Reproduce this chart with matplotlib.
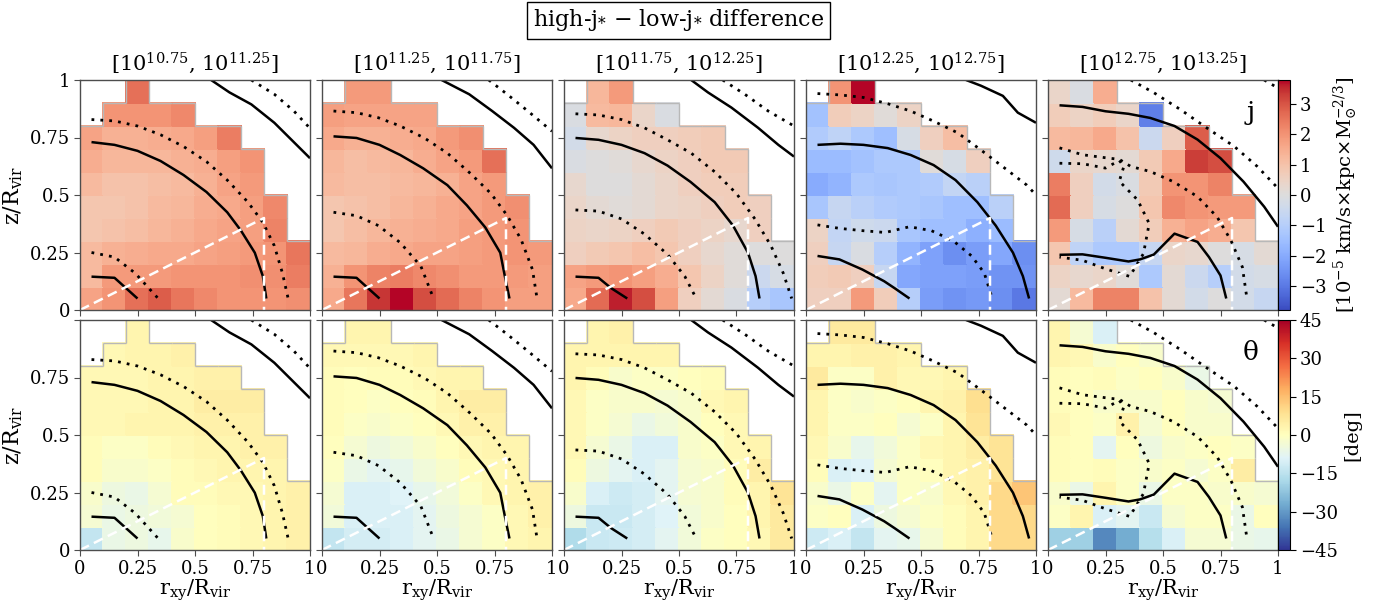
import numpy as np
import matplotlib
matplotlib.use("Agg")
import matplotlib.pyplot as plt
from matplotlib.colors import Normalize
from matplotlib.collections import LineCollection
from matplotlib.cm import ScalarMappable

plt.rcParams["font.family"] = ["DejaVu Serif", "DejaVu Sans"]
plt.rcParams["mathtext.fontset"] = "dejavuserif"

N = np.nan

# halo-mass bins (column titles)
mass_bins = [
    r"[10$^{10.75}$, 10$^{11.25}$]",
    r"[10$^{11.25}$, 10$^{11.75}$]",
    r"[10$^{11.75}$, 10$^{12.25}$]",
    r"[10$^{12.25}$, 10$^{12.75}$]",
    r"[10$^{12.75}$, 10$^{13.25}$]",
]

# bin edges in r_xy/R_vir and z/R_vir
r_edges = np.linspace(0.0, 1.0, 11)
z_edges = np.linspace(0.0, 1.0, 11)

# specific angular momentum difference [1e-5 km/s kpc Msun^-2/3]
# rows listed from the top bin (z = 0.9-1.0) down to z = 0-0.1
j_diff_1 = [
    [N, N, 2.6, N, N, N, N, N, N, N],
    [N, 2.0, 2.0, 2.0, 2.2, N, N, N, N, N],
    [1.7, 1.4, 1.4, 1.5, 1.6, 1.8, 2.4, N, N, N],
    [1.5, 1.3, 1.3, 1.3, 1.4, 1.5, 1.8, 2.0, N, N],
    [1.2, 1.0, 1.0, 1.1, 1.2, 1.4, 1.7, 1.9, N, N],
    [0.9, 0.9, 1.0, 1.2, 1.3, 1.5, 1.6, 1.8, 2.2, N],
    [0.9, 1.0, 1.1, 1.3, 1.4, 1.6, 1.7, 1.8, 2.3, N],
    [1.2, 1.4, 1.5, 1.6, 1.6, 1.7, 1.8, 1.9, 2.0, 2.5],
    [1.2, 1.9, 1.9, 1.9, 2.0, 2.0, 2.0, 2.1, 2.1, 2.4],
    [1.7, 2.0, 2.6, 2.9, 2.5, 2.2, 2.0, 2.0, 2.0, 2.1],
]
j_diff_2 = [
    [N, 1.9, 1.9, N, N, N, N, N, N, N],
    [1.8, 1.7, 1.7, 1.7, 1.7, N, N, N, N, N],
    [1.6, 1.4, 1.4, 1.5, 1.6, 1.9, 2.1, N, N, N],
    [1.3, 1.1, 1.2, 1.3, 1.5, 1.7, 1.9, 2.6, N, N],
    [1.2, 1.1, 1.1, 1.2, 1.3, 1.4, 1.7, 1.9, N, N],
    [0.9, 1.0, 1.1, 1.3, 1.4, 1.6, 1.7, 1.9, 2.1, N],
    [0.9, 1.1, 1.3, 1.4, 1.5, 1.6, 1.8, 1.9, 2.0, N],
    [1.2, 1.3, 1.5, 1.6, 1.7, 1.7, 1.8, 1.9, 2.0, 1.9],
    [1.4, 2.0, 2.3, 2.4, 2.2, 2.1, 1.9, 1.9, 1.9, 1.8],
    [1.6, 2.5, 3.4, 3.8, 3.1, 2.7, 2.3, 2.0, 1.8, 1.8],
]
j_diff_3 = [
    [N, 1.3, 1.9, N, N, N, N, N, N, N],
    [-0.1, 1.2, 1.3, 0.4, -0.1, N, N, N, N, N],
    [-0.3, 0.3, 0.5, 0.6, 0.6, 0.7, 0.8, N, N, N],
    [-0.1, 0.0, 0.1, 0.3, 0.5, 0.6, 0.8, 0.8, N, N],
    [0.3, 0.0, 0.0, 0.2, 0.4, 0.6, 0.7, 0.7, N, N],
    [0.4, 0.2, 0.1, 0.2, 0.4, 0.5, 0.6, 0.7, 0.6, N],
    [0.5, 0.4, 0.5, 0.6, 0.8, 0.6, 0.5, 0.3, 0.6, N],
    [0.6, 0.8, 0.9, 1.1, 0.9, 0.6, 0.3, 0.1, 0.0, 0.0],
    [1.7, 1.9, 2.0, 1.8, 1.5, 0.9, 0.5, 0.1, -0.5, -0.2],
    [1.6, 2.7, 3.6, 3.1, 1.8, 0.6, 0.2, -0.1, -1.0, -1.3],
]
j_diff_4 = [
    [N, 2.0, 3.8, N, N, N, N, N, N, N],
    [-1.4, 0.7, 0.5, 0.1, 0.5, N, N, N, N, N],
    [-1.1, -0.8, -1.2, -1.5, -0.2, 0.6, 1.1, N, N, N],
    [-1.6, -1.6, -1.4, -1.2, -1.2, 0.1, -0.2, 0.6, N, N],
    [-2.0, -1.8, -1.2, -1.3, -1.2, -1.1, -0.7, -0.9, N, N],
    [-1.3, -0.6, -0.9, -1.1, -1.2, -1.3, -1.5, -1.5, -0.9, N],
    [0.5, -0.7, -0.4, -0.5, -1.3, -1.5, -1.5, -1.9, -1.6, N],
    [0.6, -0.6, -0.1, -1.0, -1.8, -2.2, -2.6, -2.3, -2.1, -2.6],
    [0.7, 0.8, 0.6, -0.6, -2.1, -2.2, -2.2, -2.3, -2.5, -2.5],
    [0.6, 0.6, 1.9, 0.7, -1.0, -2.3, -2.5, -2.4, -2.6, -3.0],
]
j_diff_5 = [
    [0.4, -0.1, 1.5, N, N, N, N, N, N, N],
    [0.7, 0.5, 0.7, 0.4, -2.9, N, N, N, N, N],
    [1.2, 1.3, 1.6, 1.0, -0.5, 0.6, 2.9, N, N, N],
    [-0.4, 0.4, 0.3, 0.2, 0.8, 1.6, 3.3, 3.1, N, N],
    [2.4, 0.6, -0.3, -0.1, 0.8, 2.0, 2.0, 2.3, N, N],
    [2.7, 0.6, -0.2, 0.0, 0.9, 2.2, 2.0, 1.9, 1.9, N],
    [1.9, -0.2, -0.9, 0.2, 0.7, 1.4, 1.7, 1.5, 0.9, N],
    [0.9, -0.8, -1.2, -1.2, -0.6, 0.4, 0.3, 0.0, -0.2, 0.2],
    [0.5, 0.3, 0.4, 0.1, -1.2, 0.2, -0.5, -1.0, -0.3, -0.2],
    [0.2, 1.2, 2.3, 2.3, 1.0, 0.2, -0.3, 0.0, -0.3, -0.6],
]

# misalignment angle difference [deg]
theta_diff_1 = [
    [N, N, 3, N, N, N, N, N, N, N],
    [N, 2, 3, 3, 4, N, N, N, N, N],
    [2, 2, 2, 3, 3, 4, 4, N, N, N],
    [2, 2, 2, 3, 3, 5, 5, 5, N, N],
    [2, 2, 3, 3, 3, 4, 4, 4, N, N],
    [1, -1, -1, 1, 2, 3, 3, 4, 4, N],
    [1, -2, -2, -1, 1, 2, 3, 3, 3, N],
    [-2, -5, -6, -3, 1, 1, 2, 2, 3, 4],
    [-3, -6, -5, -4, -3, 0, 1, 2, 3, 4],
    [-14, -6, -5, -7, -2, 0, 1, 2, 3, 4],
]
theta_diff_2 = [
    [N, 3, 3, N, N, N, N, N, N, N],
    [2, 2, 2, 2, 3, N, N, N, N, N],
    [1, 0, 1, 1, 2, 3, 3, N, N, N],
    [1, 0, -1, 0, 1, 3, 5, 5, N, N],
    [1, -1, -2, -1, 0, 2, 4, 4, N, N],
    [0, -3, -5, -4, -2, 0, 2, 3, 3, N],
    [-1, -6, -8, -7, -4, -2, 1, 2, 3, N],
    [-3, -10, -10, -9, -7, -4, -1, 2, 3, 4],
    [-4, -10, -10, -10, -8, -5, -3, -1, 2, 4],
    [-14, -11, -11, -10, -8, -6, -3, -1, 2, 3],
]
theta_diff_3 = [
    [N, 3, 4, N, N, N, N, N, N, N],
    [3, 3, 3, 3, 3, N, N, N, N, N],
    [3, 1, -2, -1, -1, 0, 1, N, N, N],
    [2, -1, -2, -2, -3, -2, 2, 3, N, N],
    [2, -1, -3, -6, -4, -2, 0, 2, N, N],
    [2, -3, -6, -10, -10, -2, -1, 2, 3, N],
    [1, -5, -8, -10, -8, -3, -2, 1, 5, N],
    [-2, -10, -12, -11, -8, -3, -2, 1, 3, 8],
    [-5, -13, -13, -11, -9, -4, -2, 0, 3, 6],
    [-17, -13, -12, -11, -8, -4, -1, 0, 2, 6],
]
theta_diff_4 = [
    [N, 6, 6, N, N, N, N, N, N, N],
    [3, 3, 4, 4, 3, N, N, N, N, N],
    [6, -1, -1, 4, 2, 2, 3, N, N, N],
    [3, -1, -2, -1, 0, 3, 4, 9, N, N],
    [3, -1, -1, 0, -3, -1, 3, 8, N, N],
    [2, -2, -7, -4, -1, 2, 3, 5, 8, N],
    [1, -10, -9, -3, -1, 0, 3, 4, 8, N],
    [-2, -6, -1, -8, -1, -2, 2, 4, 10, 14],
    [-1, 0, -10, -5, -3, -1, 1, 3, 10, 10],
    [-12, -10, -14, -8, -7, -3, 1, 3, 10, 10],
]
theta_diff_5 = [
    [3, -3, -10, N, N, N, N, N, N, N],
    [3, 2, -2, 0, -2, N, N, N, N, N],
    [1, 0, 1, -1, 0, -2, -6, N, N, N],
    [1, 0, -2, -2, -2, 0, -2, -3, N, N],
    [2, 0, -1, 4, -3, 0, -2, -2, N, N],
    [1, 0, -8, 0, -5, -2, -1, 0, -1, N],
    [1, 0, 1, -1, -2, -1, -3, -1, 5, N],
    [-2, -6, 3, -1, -6, -1, -1, -2, -2, -3],
    [-1, 3, -10, -8, -13, -3, -1, -1, -6, 0],
    [-20, -20, -33, -27, -16, -10, -3, -3, -6, -7],
]

j_maps = [j_diff_1, j_diff_2, j_diff_3, j_diff_4, j_diff_5]
theta_maps = [theta_diff_1, theta_diff_2, theta_diff_3, theta_diff_4, theta_diff_5]

# reference contours (r_xy/R_vir, z/R_vir), one set per mass bin
solid_1 = [
    [(0.05, 0.145), (0.15, 0.14), (0.25, 0.05)],
    [(0.05, 0.73), (0.15, 0.718), (0.25, 0.692), (0.35, 0.648), (0.45, 0.587), (0.55, 0.513),
     (0.64, 0.425), (0.70, 0.345), (0.76, 0.249), (0.795, 0.147), (0.81, 0.05)],
    [(0.57, 1.0), (0.65, 0.946), (0.745, 0.894), (0.845, 0.814), (1.0, 0.66)],
]
dotted_1 = [
    [(0.05, 0.25), (0.15, 0.23), (0.24, 0.16), (0.34, 0.05)],
    [(0.05, 0.828), (0.15, 0.822), (0.25, 0.8), (0.35, 0.762), (0.45, 0.711), (0.55, 0.645),
     (0.64, 0.565), (0.73, 0.469), (0.795, 0.381), (0.845, 0.279), (0.88, 0.161), (0.905, 0.05)],
    [(0.745, 1.0), (0.845, 0.938), (0.93, 0.865), (1.0, 0.79)],
]
solid_2 = [
    [(0.05, 0.145), (0.15, 0.14), (0.25, 0.05)],
    [(0.05, 0.755), (0.15, 0.748), (0.25, 0.718), (0.34, 0.674), (0.44, 0.616), (0.545, 0.543),
     (0.63, 0.455), (0.71, 0.359), (0.775, 0.249), (0.795, 0.147), (0.815, 0.05)],
    [(0.52, 1.0), (0.64, 0.938), (0.74, 0.865), (0.835, 0.792), (0.92, 0.718), (1.0, 0.616)],
]
dotted_2 = [
    [(0.05, 0.425), (0.15, 0.41), (0.245, 0.367), (0.34, 0.293), (0.43, 0.19), (0.485, 0.05)],
    [(0.05, 0.865), (0.15, 0.858), (0.245, 0.836), (0.34, 0.8), (0.445, 0.748), (0.545, 0.682),
     (0.645, 0.594), (0.735, 0.506), (0.805, 0.411), (0.865, 0.308), (0.915, 0.176), (0.935, 0.05)],
    [(0.725, 1.0), (0.805, 0.938), (0.895, 0.865), (1.0, 0.777)],
]
solid_3 = [
    [(0.05, 0.145), (0.15, 0.14), (0.205, 0.095), (0.275, 0.05)],
    [(0.05, 0.748), (0.15, 0.74), (0.25, 0.718), (0.35, 0.682), (0.45, 0.628), (0.55, 0.557),
     (0.655, 0.469), (0.735, 0.367), (0.80, 0.249), (0.833, 0.147), (0.85, 0.05)],
    [(0.553, 1.0), (0.626, 0.946), (0.728, 0.88), (0.844, 0.792), (0.932, 0.718), (1.0, 0.667)],
]
dotted_3 = [
    [(0.05, 0.435), (0.15, 0.43), (0.25, 0.396), (0.35, 0.33), (0.45, 0.242), (0.525, 0.147),
     (0.575, 0.05)],
    [(0.05, 0.853), (0.15, 0.848), (0.25, 0.828), (0.35, 0.792), (0.45, 0.74), (0.553, 0.682),
     (0.655, 0.601), (0.75, 0.506), (0.83, 0.396), (0.90, 0.279), (0.953, 0.161), (0.99, 0.05)],
    [(0.69, 1.0), (0.786, 0.938), (0.888, 0.865), (1.0, 0.8)],
]
solid_4 = [
    [(0.05, 0.235), (0.145, 0.22), (0.245, 0.176), (0.34, 0.125), (0.385, 0.095), (0.45, 0.05)],
    [(0.05, 0.718), (0.15, 0.723), (0.25, 0.718), (0.355, 0.704), (0.455, 0.674), (0.555, 0.63),
     (0.65, 0.565), (0.745, 0.469), (0.825, 0.367), (0.90, 0.249), (0.943, 0.147), (0.97, 0.05)],
    [(0.696, 1.0), (0.761, 0.975), (0.856, 0.931), (0.921, 0.858), (1.0, 0.814)],
]
dotted_4 = [
    [(0.05, 0.37), (0.145, 0.355), (0.245, 0.345), (0.345, 0.337), (0.45, 0.362), (0.545, 0.345),
     (0.64, 0.301), (0.72, 0.235), (0.775, 0.161), (0.81, 0.05)],
    [(0.05, 0.941), (0.15, 0.935), (0.25, 0.924), (0.355, 0.897), (0.455, 0.865), (0.555, 0.821),
     (0.66, 0.77), (0.76, 0.696), (0.865, 0.616), (0.96, 0.543), (1.0, 0.5)],
]
solid_5 = [
    [(0.05, 0.89), (0.15, 0.883), (0.25, 0.864), (0.35, 0.853), (0.445, 0.835), (0.55, 0.80),
     (0.65, 0.741), (0.75, 0.66), (0.85, 0.558), (0.94, 0.449), (1.0, 0.362)],
    [(0.05, 0.24), (0.15, 0.242), (0.25, 0.227), (0.35, 0.211), (0.40, 0.22), (0.46, 0.241),
     (0.55, 0.332), (0.65, 0.296), (0.70, 0.23), (0.75, 0.15), (0.775, 0.05)],
]
dotted_5 = [
    [(0.36, 1.0), (0.46, 0.945), (0.575, 0.872), (0.69, 0.792), (0.81, 0.711), (0.91, 0.624),
     (1.0, 0.529)],
    [(0.94, 1.0), (1.0, 0.965)],
    [(0.05, 0.705), (0.15, 0.675), (0.25, 0.662), (0.31, 0.655), (0.36, 0.624), (0.445, 0.602),
     (0.545, 0.558), (0.65, 0.493), (0.735, 0.405), (0.795, 0.303), (0.845, 0.187), (0.865, 0.05)],
    [(0.05, 0.638), (0.15, 0.636), (0.25, 0.617), (0.31, 0.65), (0.33, 0.625), (0.31, 0.56),
     (0.39, 0.478), (0.44, 0.376), (0.415, 0.245), (0.355, 0.146), (0.25, 0.179), (0.15, 0.216),
     (0.05, 0.23)],
]
solid_sets = [solid_1, solid_2, solid_3, solid_4, solid_5]
dotted_sets = [dotted_1, dotted_2, dotted_3, dotted_4, dotted_5]

# analysis wedge (disc region) outline
wedge_r = [0.0, 0.8, 0.8]
wedge_z = [0.0, 0.4, 0.0]

tick_vals = [0, 0.25, 0.5, 0.75, 1]
tick_text = ["0", "0.25", "0.5", "0.75", "1"]

j_ticks = [-3, -2, -1, 0, 1, 2, 3]
theta_ticks = [-45, -30, -15, 0, 15, 30, 45]

j_norm = Normalize(vmin=-3.8, vmax=3.8)
theta_norm = Normalize(vmin=-45, vmax=45)
j_cmap = plt.get_cmap("coolwarm")
theta_cmap = plt.get_cmap("RdYlBu_r")


def outline_segments(valid):
    """Edges between filled bins and empty bins."""
    segs = []
    nz, nr = valid.shape
    for i in range(nz):
        for k in range(nr):
            if not valid[i, k]:
                continue
            r0, r1 = r_edges[k], r_edges[k + 1]
            z0, z1 = z_edges[i], z_edges[i + 1]
            if k + 1 < nr and not valid[i, k + 1]:
                segs.append([(r1, z0), (r1, z1)])
            if k - 1 >= 0 and not valid[i, k - 1]:
                segs.append([(r0, z0), (r0, z1)])
            if i + 1 < nz and not valid[i + 1, k]:
                segs.append([(r0, z1), (r1, z1)])
            if i - 1 >= 0 and not valid[i - 1, k]:
                segs.append([(r0, z0), (r1, z0)])
    return segs


W, H = 1379, 605
fig = plt.figure(figsize=(W / 100, H / 100), dpi=100)

panel_left = [80 + 242 * c for c in range(5)]
panel_size = 230
row_top = [80, 320]

spine_col = "0.3"

for row in range(2):
    maps = j_maps if row == 0 else theta_maps
    cmap = j_cmap if row == 0 else theta_cmap
    norm = j_norm if row == 0 else theta_norm
    for col in range(5):
        ax = fig.add_axes([panel_left[col] / W, (H - row_top[row] - panel_size) / H,
                           panel_size / W, panel_size / H])
        data = np.array(maps[col], dtype=float)[::-1]
        masked = np.ma.masked_invalid(data)
        ax.pcolormesh(r_edges, z_edges, masked, cmap=cmap, norm=norm,
                      shading="flat", edgecolors="face", linewidth=0.3)
        ax.add_collection(LineCollection(outline_segments(~np.isnan(data)),
                                         colors="0.72", linewidths=1.0))
        for line in solid_sets[col]:
            xs, zs = zip(*line)
            ax.plot(xs, zs, color="black", lw=1.8, solid_capstyle="butt")
        for line in dotted_sets[col]:
            xs, zs = zip(*line)
            ax.plot(xs, zs, color="black", lw=2.0, linestyle=(0, (1, 2.2)))
        ax.plot(wedge_r, wedge_z, color="white", lw=1.8, linestyle=(0, (4, 2.2)))

        ax.set_xlim(0, 1)
        ax.set_ylim(0, 1)
        ax.set_xticks(tick_vals)
        ax.set_yticks(tick_vals)
        if row == 1:
            ax.set_xticklabels(tick_text)
            ax.set_xlabel(r"r$_{\rm xy}$/R$_{\rm vir}$", fontsize=15, labelpad=0)
        else:
            ax.set_xticklabels([])
            ax.set_title(mass_bins[col], fontsize=15, pad=7)
        if col == 0:
            labels = tick_text if row == 0 else tick_text[:-1] + [""]
            ax.set_yticklabels(labels)
            ax.set_ylabel(r"z/R$_{\rm vir}$", fontsize=16, labelpad=4)
        else:
            ax.set_yticklabels([])
        ax.tick_params(labelsize=13, length=4, color=spine_col, pad=3)
        for sp in ax.spines.values():
            sp.set_color(spine_col)
            sp.set_linewidth(1.0)

        if col == 4:
            ax.text(0.88, 0.86, "j" if row == 0 else "θ", transform=ax.transAxes,
                    fontsize=19, ha="center", va="center")
            cax = fig.add_axes([(panel_left[col] + panel_size) / W,
                                (H - row_top[row] - panel_size) / H,
                                12 / W, panel_size / H])
            sm = ScalarMappable(norm=norm, cmap=cmap)
            cb = fig.colorbar(sm, cax=cax, ticks=j_ticks if row == 0 else theta_ticks)
            cb.ax.tick_params(labelsize=13, length=4, pad=3)
            cb.outline.set_linewidth(0.8)
            if row == 0:
                cb.set_label(r"[$10^{-5}$ km/s$\times$kpc$\times$M$_{\odot}^{-2/3}$]",
                             fontsize=14, labelpad=4)
            else:
                cb.set_label("[deg]", fontsize=14, labelpad=4)

fig.text(0.492, 0.988, r"high-j$_{*}$ $-$ low-j$_{*}$ difference", ha="center", va="top",
         fontsize=16,
         bbox=dict(boxstyle="square,pad=0.25", facecolor="white", edgecolor="black", lw=1.0))

fig.savefig("out.png", dpi=100)
